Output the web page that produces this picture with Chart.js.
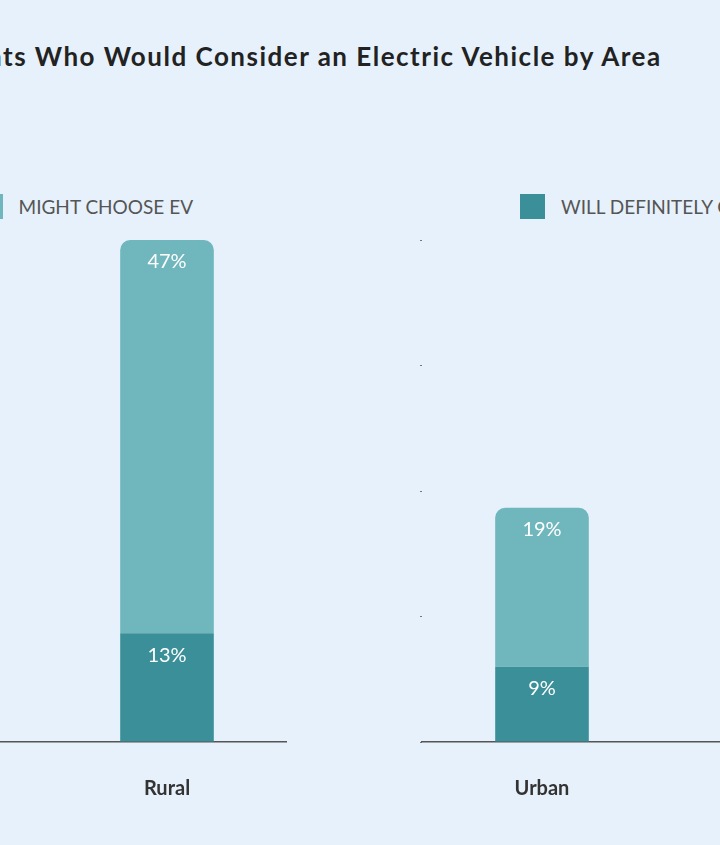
<!DOCTYPE html>
<html><head><meta charset="utf-8">
<script src="https://cdn.jsdelivr.net/npm/chart.js@4"></script>
<style>
html,body{margin:0;padding:0;background:#e6f1fb;}
#wrap{position:relative;width:720px;height:845px;overflow:hidden;background:#e6f1fb;font-family:Lato,sans-serif;}
#title{position:absolute;top:40px;white-space:nowrap;font-weight:bold;font-size:26px;letter-spacing:1.5px;color:#222;}
.leg{position:absolute;top:194px;white-space:nowrap;font-size:19px;color:#555;display:flex;align-items:center;}
.box{display:inline-block;width:25px;height:25px;margin-right:16px;}
canvas{position:absolute;top:0;}
</style></head><body>
<div id="wrap">
<div id="title"><span id="pre">Share of Responden</span>ts Who Would Consider an Electric Vehicle by Area</div>
<div class="leg" id="legL"><span class="box" style="background:#6fb6bd"></span>MIGHT CHOOSE EV</div>
<div class="leg" id="legR" style="left:520px"><span class="box" style="background:#3a8f98"></span>WILL DEFINITELY CHOOSE EV</div>
<div style="position:absolute;left:-197px;width:484px;height:800px;top:0"><canvas id="c1"></canvas></div>
<div style="position:absolute;left:418px;width:484px;height:800px;top:0"><canvas id="c2"></canvas></div>
</div>
<script>
const catsLeft=["Existing","Rural"];
const definitelyLeft=[11,13];
const mightLeft=[36,47];
const catsRight=["Urban","Intermediate"];
const definitelyRight=[9,12];
const mightRight=[19,30];
const yTicks=[0,15,30,45,60];

const pre=document.getElementById('pre');
document.getElementById('title').style.left=(3-pre.getBoundingClientRect().width)+'px';
const ll=document.getElementById('legL');
ll.style.left=(193-ll.getBoundingClientRect().width)+'px';

const labelPlugin={id:'lbl',afterDatasetsDraw(ch){
 const ctx=ch.ctx;ctx.save();ctx.fillStyle='#fff';ctx.font='20px Lato';ctx.textAlign='center';ctx.textBaseline='middle';
 ch.data.datasets.forEach((ds,i)=>{ch.getDatasetMeta(i).data.forEach((b,j)=>{ctx.fillText(ds.data[j]+'%',b.x,b.y+22);});});
 ctx.restore();}};

function make(id,cats,d1,d2,showTicks){
 new Chart(document.getElementById(id),{type:'bar',
  data:{labels:cats,datasets:[
   {label:'WILL DEFINITELY CHOOSE EV',data:d1,backgroundColor:'#3a8f98',barPercentage:0.39,categoryPercentage:1,borderSkipped:false,borderRadius:0},
   {label:'MIGHT CHOOSE EV',data:d2,backgroundColor:'#6fb6bd',barPercentage:0.39,categoryPercentage:1,borderSkipped:false,borderRadius:{topLeft:10,topRight:10,bottomLeft:0,bottomRight:0}}]},
  options:{responsive:true,maintainAspectRatio:false,animation:false,
   layout:{padding:{top:240,bottom:0,left:0,right:0}},
   plugins:{legend:{display:false},tooltip:{enabled:false}},
   scales:{
    x:{stacked:true,grid:{display:false},border:{display:true,color:'#555',width:1.5},
       ticks:{padding:27,color:'#333',font:{family:'Lato',size:20,weight:'bold'}},
       afterFit(s){s.height=58;}},
    y:{stacked:true,min:0,max:60,afterBuildTicks(s){s.ticks=yTicks.map(v=>({value:v}));},
       ticks:{display:false},border:{display:false},
       grid:{drawOnChartArea:false,tickLength:2,color:showTicks?'#777':'transparent'},
       afterFit(s){s.width=4;}}}},
  plugins:[labelPlugin]});
}
make('c1',catsLeft,definitelyLeft,mightLeft,false);
make('c2',catsRight,definitelyRight,mightRight,true);
</script>
</body></html>
